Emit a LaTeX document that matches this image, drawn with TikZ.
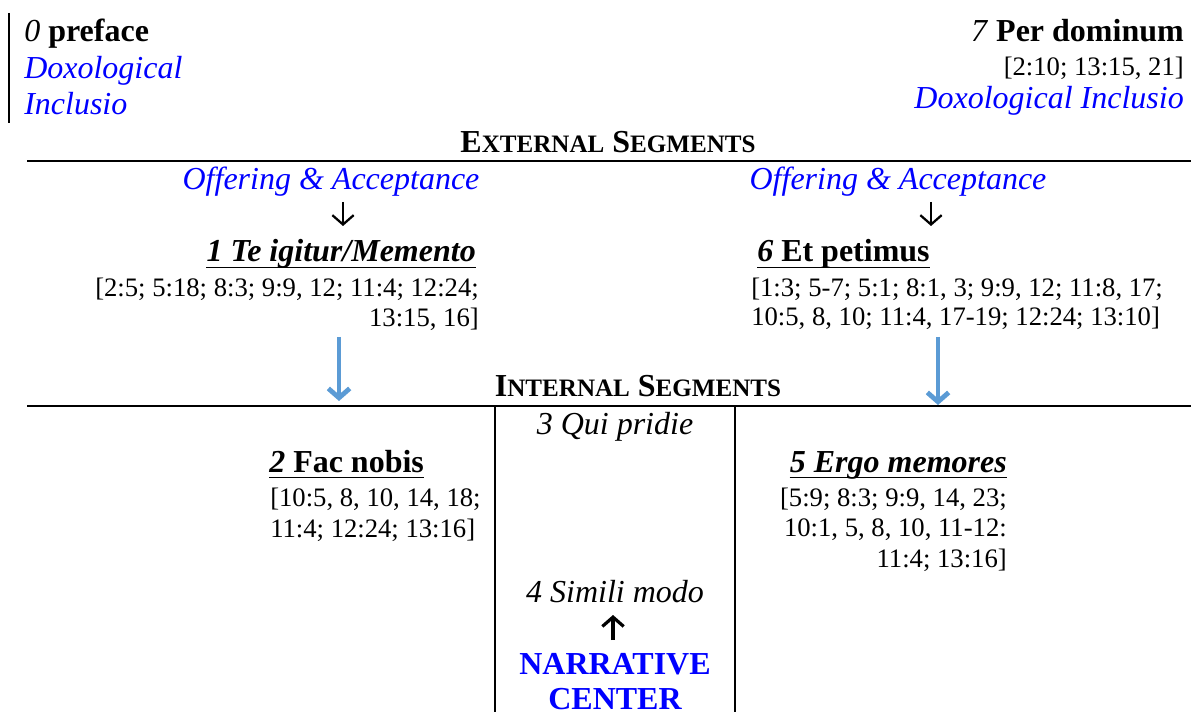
\documentclass[tikz,border=0pt]{standalone}
\usepackage{fontspec}
\setmainfont{Liberation Serif}
\usepackage{xcolor}
\definecolor{TXTblue}{HTML}{0000FF}
\definecolor{ARRblue}{HTML}{5B9BD5}
\usepackage{tikz}
\usetikzlibrary{arrows.meta}
\newcommand\headsize{\fontsize{24}{28}\selectfont}
\newcommand\refsize{\fontsize{20}{23}\selectfont}
\newcommand\fakesc[2]{#1{\fontsize{18.8}{19}\selectfont #2}}

\begin{document}
\begin{tikzpicture}[x=0.75pt, y=-0.75pt]
    \tikzset{%
        head/.style={inner sep=0pt, font=\headsize},
        doxo/.style={inner sep=0pt, font=\headsize\itshape, text=TXTblue},
        refs/.style={inner sep=0pt, font=\refsize},
        rule/.style={line width=1.5pt},
        uline/.style={line width=1.1pt},
        karrow/.style={-{Straight Barb[length=7pt, width=16pt]}, line width=1.7pt},
        barrow/.style={-{Straight Barb[length=7pt, width=16pt]}, line width=3.6pt, draw=ARRblue},
    }

    \useasboundingbox (0, 0) rectangle (1191, 712);
    \clip (0, 0) rectangle (1191, 712);

    % preface
    \draw [rule] (9, 13) -- (9, 123);
    \node (pre) at (24, 42) [head, anchor=base west] {\textit{0} \textbf{preface}};
    \node (preDoxA) at (24, 79) [doxo, anchor=base west] {Doxological};
    \node (preDoxB) at (24, 115) [doxo, anchor=base west] {Inclusio};

    % per dominum
    \node (per) at (1184, 42) [head, anchor=base east] {\textit{7} \textbf{Per dominum}};
    \node (perRef) at (1184, 76) [refs, anchor=base east] {[2:10; 13:15, 21]};
    \node (perDox) at (1184, 109) [doxo, anchor=base east] {Doxological Inclusio};

    % external segments
    \node (ext) at (608, 153) [head, anchor=base] {\bfseries\fakesc{E}{XTERNAL} \fakesc{S}{EGMENTS}};
    \draw [rule] (27, 161) -- (1191, 161);

    \node (offerL) at (331, 190) [doxo, anchor=base] {Offering \& Acceptance};
    \node (offerR) at (898, 190) [doxo, anchor=base] {Offering \& Acceptance};
    \coordinate (kL1) at (343, 202);
    \coordinate (kL2) at (343, 226);
    \coordinate (kR1) at (931, 202);
    \coordinate (kR2) at (931, 226);
    \draw [karrow] (kL1) -- (kL2);
    \draw [karrow] (kR1) -- (kR2);

    \node (te) at (476, 262) [head, anchor=base east] {\bfseries\itshape 1 Te igitur/Memento};
    \draw [uline] ([yshift=-4pt]te.base west) -- ([yshift=-4pt]te.base east);
    \node (teRefA) at (479, 297) [refs, anchor=base east] {[2:5; 5:18; 8:3; 9:9, 12; 11:4; 12:24;};
    \node (teRefB) at (479, 327) [refs, anchor=base east] {13:15, 16]};

    \node (et) at (757, 262) [head, anchor=base west] {\bfseries\textit{6} Et petimus};
    \draw [uline] ([yshift=-4pt]et.base west) -- ([yshift=-4pt]et.base east);
    \node (etRefA) at (751, 297) [refs, anchor=base west] {[1:3; 5-7; 5:1; 8:1, 3; 9:9, 12; 11:8, 17;};
    \node (etRefB) at (751, 326) [refs, anchor=base west] {10:5, 8, 10; 11:4, 17-19; 12:24; 13:10]};

    % blue arrows
    \coordinate (bL1) at (339, 337);
    \coordinate (bL2) at (339, 401);
    \coordinate (bR1) at (938, 337);
    \coordinate (bR2) at (938, 405);
    \draw [barrow] (bL1) -- (bL2);
    \draw [barrow] (bR1) -- (bR2);

    % internal segments
    \node (int) at (638, 397) [head, anchor=base] {\bfseries\fakesc{I}{NTERNAL} \fakesc{S}{EGMENTS}};
    \draw [rule] (27, 406) -- (1191, 406);
    \draw [rule] (495, 406) -- (495, 712);
    \draw [rule] (735, 406) -- (735, 712);

    \node (fac) at (269, 472) [head, anchor=base west] {\bfseries\textit{2} Fac nobis};
    \draw [uline] ([yshift=-4pt]fac.base west) -- ([yshift=-4pt]fac.base east);
    \node (facRefA) at (270, 506) [refs, anchor=base west] {[10:5, 8, 10, 14, 18;};
    \node (facRefB) at (270, 537) [refs, anchor=base west] {11:4; 12:24; 13:16]};

    \node (qui) at (615, 435) [head, anchor=base] {\itshape 3 Qui pridie};
    \node (sim) at (615, 602) [head, anchor=base] {\itshape 4 Simili modo};
    \coordinate (kC1) at (613, 640);
    \coordinate (kC2) at (613, 615);
    \draw [karrow, line width=2.4pt] (kC1) -- (kC2);
    \node (narr) at (615, 674) [head, anchor=base, text=TXTblue] {\bfseries NARRATIVE};
    \node (cent) at (615, 709) [head, anchor=base, text=TXTblue] {\bfseries CENTER};

    \node (ergo) at (1007, 472) [head, anchor=base east] {\bfseries\itshape 5 Ergo memores};
    \draw [uline] ([yshift=-4pt]ergo.base west) -- ([yshift=-4pt]ergo.base east);
    \node (ergoRefA) at (1007, 506) [refs, anchor=base east] {[5:9; 8:3; 9:9, 14, 23;};
    \node (ergoRefB) at (1007, 536) [refs, anchor=base east] {10:1, 5, 8, 10, 11-12:};
    \node (ergoRefC) at (1007, 567) [refs, anchor=base east] {11:4; 13:16]};

\end{tikzpicture}
\end{document}
